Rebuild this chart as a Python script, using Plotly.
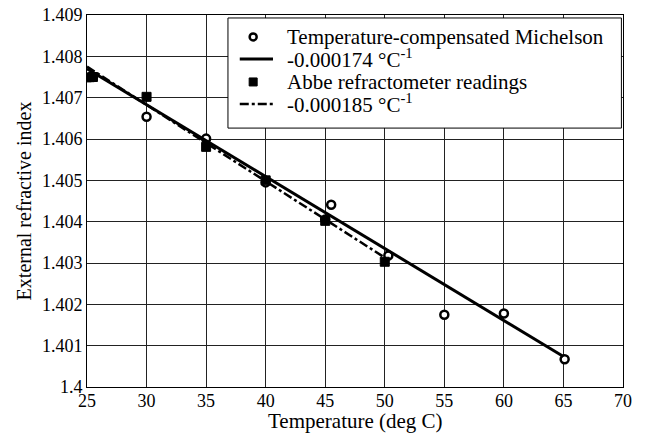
import plotly.graph_objects as go

# Michelson (temperature-compensated) measurements
mich_t = [25.5, 30, 35, 40, 45, 45.5, 50.3, 55, 60, 65.1]
mich_n = [1.4075, 1.40654, 1.40601, 1.40495, 1.40405, 1.40441, 1.40318, 1.40175, 1.40178, 1.40067]
# Michelson linear fit (-0.000174 /°C), endpoints
mich_fit_t = [25, 65]
mich_fit_n = [1.40770, 1.40074]
# Abbe refractometer readings
abbe_t = [25, 25.5, 30, 35, 40, 45, 50]
abbe_n = [1.40749, 1.40750, 1.40702, 1.40581, 1.40500, 1.40402, 1.40303]
# Abbe linear fit (-0.000185 /°C), endpoints
abbe_fit_t = [25, 50]
abbe_fit_n = [1.40775, 1.40313]

series_names = ["Temperature-compensated Michelson", "-0.000174 °C<sup>-1</sup>",
                "Abbe refractometer readings", "-0.000185 °C<sup>-1</sup>"]

x_ticks = [25, 30, 35, 40, 45, 50, 55, 60, 65, 70]
y_ticks = [1.400, 1.401, 1.402, 1.403, 1.404, 1.405, 1.406, 1.407, 1.408, 1.409]
y_tick_text = ["1.4", "1.401", "1.402", "1.403", "1.404", "1.405", "1.406", "1.407", "1.408", "1.409"]

x_title = "Temperature (deg C)"
y_title = "External refractive index"

font_family = "Times New Roman"

fig = go.Figure()
fig.add_trace(go.Scatter(
    x=mich_t, y=mich_n, mode="markers", name=series_names[0],
    marker=dict(symbol="circle", size=8, color="white", line=dict(color="black", width=2.5)),
))
fig.add_trace(go.Scatter(
    x=mich_fit_t, y=mich_fit_n, mode="lines", name=series_names[1],
    line=dict(color="black", width=3),
))
fig.add_trace(go.Scatter(
    x=abbe_t, y=abbe_n, mode="markers", name=series_names[2],
    marker=dict(symbol="square", size=9, color="black", line=dict(color="black", width=1)),
))
fig.add_trace(go.Scatter(
    x=abbe_fit_t, y=abbe_fit_n, mode="lines", name=series_names[3],
    line=dict(color="black", width=2.5, dash="dashdot"),
))

# ---- legend box (drawn as layout decoration, paper coordinates) ----
leg_x0, leg_x1, leg_y0, leg_y1 = 0.263, 0.997, 0.696, 0.992
row_y = [0.941, 0.882, 0.820, 0.761]
sym_cx, line_x0, line_x1, text_x = 0.310, 0.285, 0.347, 0.369

shapes = [dict(type="rect", xref="paper", yref="paper", x0=leg_x0, x1=leg_x1, y0=leg_y0, y1=leg_y1,
               line=dict(color="black", width=1), fillcolor="white", layer="above")]
shapes.append(dict(type="circle", xref="paper", yref="paper", xsizemode="pixel", ysizemode="pixel",
                   xanchor=sym_cx, yanchor=row_y[0], x0=-3.5, x1=3.5, y0=-3.5, y1=3.5,
                   line=dict(color="black", width=2.5), fillcolor="white", layer="above"))
shapes.append(dict(type="line", xref="paper", yref="paper", x0=line_x0, x1=line_x1, y0=row_y[1], y1=row_y[1],
                   line=dict(color="black", width=3), layer="above"))
shapes.append(dict(type="rect", xref="paper", yref="paper", xsizemode="pixel", ysizemode="pixel",
                   xanchor=sym_cx, yanchor=row_y[2], x0=-4, x1=4, y0=-4, y1=4,
                   line=dict(color="black", width=1), fillcolor="black", layer="above"))
shapes.append(dict(type="line", xref="paper", yref="paper", x0=line_x0, x1=line_x1, y0=row_y[3], y1=row_y[3],
                   line=dict(color="black", width=2.5, dash="dashdot"), layer="above"))

annotations = [dict(xref="paper", yref="paper", x=text_x, y=yy, text=name, showarrow=False,
                    xanchor="left", yanchor="middle",
                    font=dict(family=font_family, size=21, color="black"))
               for name, yy in zip(series_names, row_y)]
# x-axis title as annotation below tick labels
annotations.append(dict(xref="paper", yref="paper", x=0.5, y=-0.091, text=x_title, showarrow=False,
                        xanchor="center", yanchor="middle",
                        font=dict(family=font_family, size=21, color="black")))

axis_common = dict(
    showgrid=True, gridcolor="#222222", gridwidth=1,
    showline=True, linecolor="black", linewidth=1, mirror=True,
    ticks="", zeroline=False, ticklabeloverflow="allow",
    tickfont=dict(family=font_family, size=18, color="black"),
)

# page body adds an 8px offset, so the figure is sized to fit the 647x433 window
fig.update_layout(
    width=639, height=425,
    margin=dict(l=79, r=24, t=7, b=46),
    paper_bgcolor="white", plot_bgcolor="white",
    font=dict(family=font_family, size=19, color="black"),
    showlegend=False,
    shapes=shapes,
    annotations=annotations,
    xaxis=dict(
        range=[25, 70], tickmode="array", tickvals=x_ticks, automargin=False,
        ticklabelstandoff=-3,
        **axis_common,
    ),
    yaxis=dict(
        range=[1.400, 1.409], tickmode="array", tickvals=y_ticks, ticktext=y_tick_text, automargin=False,
        title=dict(text=y_title, font=dict(family=font_family, size=20), standoff=4),
        **axis_common,
    ),
)

fig.write_html("out.html")
